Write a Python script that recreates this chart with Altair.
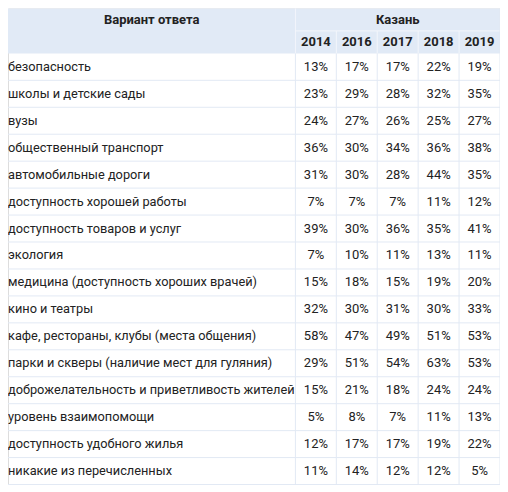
import altair as alt
import pandas as pd

# ---- data ----
col_header = "Вариант ответа"
group_header = "Казань"
years = ["2014", "2016", "2017", "2018", "2019"]
answers = [
    "безопасность",
    "школы и детские сады",
    "вузы",
    "общественный транспорт",
    "автомобильные дороги",
    "доступность хорошей работы",
    "доступность товаров и услуг",
    "экология",
    "медицина (доступность хороших врачей)",
    "кино и театры",
    "кафе, рестораны, клубы (места общения)",
    "парки и скверы (наличие мест для гуляния)",
    "доброжелательность и приветливость жителей",
    "уровень взаимопомощи",
    "доступность удобного жилья",
    "никакие из перечисленных",
]
v2014 = [13, 23, 24, 36, 31, 7, 39, 7, 15, 32, 58, 29, 15, 5, 12, 11]
v2016 = [17, 29, 27, 30, 30, 7, 30, 10, 18, 30, 47, 51, 21, 8, 17, 14]
v2017 = [17, 28, 26, 34, 28, 7, 36, 11, 15, 31, 49, 54, 18, 7, 17, 12]
v2018 = [22, 32, 25, 36, 44, 11, 35, 13, 19, 30, 51, 63, 24, 11, 19, 12]
v2019 = [19, 35, 27, 38, 35, 12, 41, 11, 20, 33, 53, 53, 24, 13, 22, 5]
series = [v2014, v2016, v2017, v2018, v2019]

# ---- layout ----
FIRST_W = 288
COL_W = 41
HEAD_H = 22.5
ROW_H = 27
PAD_L = 0
n = len(answers)
ny = len(years)
W = FIRST_W + COL_W * ny
H = 2 * HEAD_H + ROW_H * n
TOP = 2 * HEAD_H

HEAD_BG = "#e1eaf6"
HEAD_LINE = "#f3f6fb"
GRID = "#e2e9f4"
TEXT = "#222222"
FONT = "Roboto"
FS = 13
FS_LABEL = 12.8

xs = alt.Scale(domain=[0, W], range=[0, W], nice=False, zero=False)
ys = alt.Scale(domain=[0, H], range=[0, H], nice=False, zero=False)

def X(f="x"):
    return alt.X(f"{f}:Q", scale=xs, axis=None)

def Y(f="y"):
    return alt.Y(f"{f}:Q", scale=ys, axis=None)

# header background
bg = pd.DataFrame([{"x": 0, "x2": W, "y": 0, "y2": TOP}])
bg_layer = alt.Chart(bg).mark_rect(color=HEAD_BG).encode(
    x=X(), x2="x2:Q", y=Y(), y2="y2:Q")

# header lines (white)
hl = [{"x": FIRST_W, "x2": W, "y": HEAD_H, "y2": HEAD_H},
      {"x": FIRST_W, "x2": FIRST_W, "y": 0, "y2": TOP}]
for j in range(1, ny):
    xx = FIRST_W + COL_W * j
    hl.append({"x": xx, "x2": xx, "y": HEAD_H, "y2": TOP})
hl_layer = alt.Chart(pd.DataFrame(hl)).mark_rule(color=HEAD_LINE, strokeWidth=1).encode(
    x=X(), x2="x2:Q", y=Y(), y2="y2:Q")

# body grid lines
gl = []
for i in range(1, n + 1):
    yy = TOP + ROW_H * i
    gl.append({"x": 0, "x2": W, "y": yy, "y2": yy})
for j in range(0, ny + 1):
    xx = FIRST_W + COL_W * j
    gl.append({"x": xx, "x2": xx, "y": TOP, "y2": H})
gl.append({"x": W, "x2": W, "y": 0, "y2": TOP})
gl_layer = alt.Chart(pd.DataFrame(gl)).mark_rule(color=GRID, strokeWidth=1).encode(
    x=X(), x2="x2:Q", y=Y(), y2="y2:Q")

# header texts
ht = [{"x": FIRST_W / 2, "y": HEAD_H / 2, "t": col_header},
      {"x": FIRST_W + COL_W * ny / 2, "y": HEAD_H / 2, "t": group_header}]
for j, yr in enumerate(years):
    ht.append({"x": FIRST_W + COL_W * (j + 0.5), "y": HEAD_H * 1.5, "t": yr})
ht_layer = alt.Chart(pd.DataFrame(ht)).mark_text(
    font=FONT, fontSize=FS, fontWeight="bold", color=TEXT, align="center", baseline="middle"
).encode(x=X(), y=Y(), text="t:N")

# answer labels
al = pd.DataFrame({"x": [PAD_L] * n,
                   "y": [TOP + ROW_H * (i + 0.5) for i in range(n)],
                   "t": answers})
al_layer = alt.Chart(al).mark_text(
    font=FONT, fontSize=FS_LABEL, color=TEXT, align="left", baseline="middle"
).encode(x=X(), y=Y(), text="t:N")

# values
vals = []
for j, s in enumerate(series):
    for i, v in enumerate(s):
        vals.append({"x": FIRST_W + COL_W * (j + 0.5),
                     "y": TOP + ROW_H * (i + 0.5),
                     "t": f"{v}%"})
val_layer = alt.Chart(pd.DataFrame(vals)).mark_text(
    font=FONT, fontSize=FS, color=TEXT, align="center", baseline="middle"
).encode(x=X(), y=Y(), text="t:N")

chart = alt.layer(bg_layer, hl_layer, gl_layer, ht_layer, al_layer, val_layer).properties(
    width=W, height=H, padding=0, autosize="none"
).configure_view(strokeWidth=0).configure(background="white")

chart.save("out.html", embed_options={"renderer": "svg", "actions": False})
